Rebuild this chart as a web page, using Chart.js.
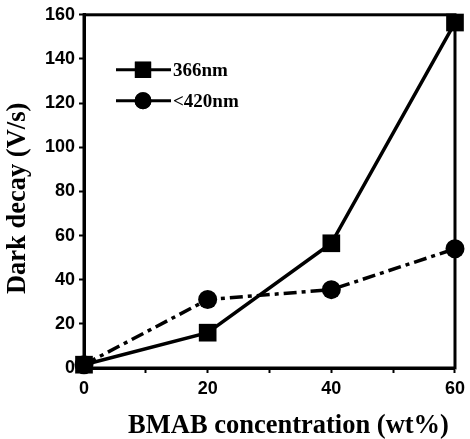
<!DOCTYPE html>
<html>
<head>
<meta charset="utf-8">
<script src="https://cdn.jsdelivr.net/npm/chart.js@4"></script>
<style>
  html, body { margin: 0; padding: 0; background: #fff; }
  #wrap { width: 470px; height: 439px; }
</style>
</head>
<body>
<div id="wrap"><canvas id="myChart"></canvas></div>
<script>
var concentration = [0, 20, 40, 60];
var decay366 = [1.5, 16, 56.5, 156.5];
var decay420 = [1.5, 31, 35.5, 54];
var seriesLabels = ["366nm", "<420nm"];
var xTitle = "BMAB concentration (wt%)";
var yTitle = "Dark decay (V/s)";

var toPoints = function(ys) {
  return concentration.map(function(x, i) { return { x: x, y: ys[i] }; });
};

// box around the plot area (top and right sides too)
var framePlugin = {
  id: "frame",
  beforeDatasetsDraw: function(chart) {
    var a = chart.chartArea;
    var c = chart.ctx;
    c.save();
    c.strokeStyle = "#000";
    c.lineWidth = 3;
    c.strokeRect(a.left, a.top, a.right - a.left, a.bottom - a.top);
    c.restore();
  }
};

// axis titles, placed a bit off-centre like the original figure
var titlePlugin = {
  id: "axisTitles",
  afterDraw: function(chart) {
    var a = chart.chartArea;
    var c = chart.ctx;
    c.save();
    c.fillStyle = "#000";
    c.font = "bold 26.5px 'Liberation Serif', 'Times New Roman', serif";
    c.textAlign = "center";
    c.textBaseline = "middle";
    c.fillText(xTitle, (a.left + a.right) / 2 + 19, a.bottom + 58);
    c.translate(18, (a.top + a.bottom) / 2 + 7);
    c.rotate(-Math.PI / 2);
    c.fillText(yTitle, 0, 0);
    c.restore();
  }
};

// legend inside the plot: short line, marker, label
var legendPlugin = {
  id: "boxLegend",
  afterDraw: function(chart) {
    var a = chart.chartArea;
    var c = chart.ctx;
    c.save();
    chart.data.datasets.forEach(function(ds, i) {
      var y = a.top + 55 + i * 31;
      var x0 = a.left + 32;
      c.strokeStyle = "#000";
      c.lineWidth = 3;
      c.setLineDash([]);
      c.beginPath();
      c.moveTo(x0, y);
      c.lineTo(x0 + 55, y);
      c.stroke();
      Chart.helpers.drawPoint(c, {
        pointStyle: ds.pointStyle,
        radius: ds.pointRadius - 1,
        borderWidth: 0
      }, x0 + 27, y);
      c.fillStyle = "#000";
      c.fill();
      c.font = "bold 19px 'Liberation Serif', serif";
      c.textBaseline = "middle";
      c.fillText(ds.label, x0 + 57, y + 1);
    });
    c.restore();
  }
};

var tickFont = { family: "'Liberation Sans', Arial, sans-serif", size: 18, weight: "bold" };

var myChart = new Chart(document.getElementById("myChart"), {
  type: "line",
  data: {
    datasets: [
      {
        label: seriesLabels[0],
        data: toPoints(decay366),
        borderColor: "#000",
        backgroundColor: "#000",
        borderWidth: 3.5,
        pointStyle: "rect",
        pointRadius: 12.5,
        pointBorderWidth: 0,
        clip: false
      },
      {
        label: seriesLabels[1],
        data: toPoints(decay420),
        borderColor: "#000",
        backgroundColor: "#000",
        borderWidth: 3.5,
        borderDash: [13, 5, 4, 5],
        pointStyle: "circle",
        pointRadius: 9.5,
        pointBorderWidth: 0,
        clip: false
      }
    ]
  },
  options: {
    responsive: true,
    maintainAspectRatio: false,
    animation: false,
    layout: { padding: { left: 0, right: 13, top: 14, bottom: 0 } },
    plugins: {
      legend: { display: false },
      tooltip: { enabled: false }
    },
    scales: {
      x: {
        type: "linear",
        min: 0,
        max: 60,
        afterFit: function(scale) { scale.height = 71; },
        border: { color: "#000", width: 3 },
        grid: { drawOnChartArea: false, drawTicks: true, tickLength: 5, tickColor: "#000", tickWidth: 2 },
        ticks: {
          stepSize: 10,
          color: "#000",
          font: tickFont,
          padding: 5,
          maxRotation: 0,
          callback: function(v) { return v % 20 === 0 ? v : ""; }
        }
      },
      y: {
        min: 0,
        max: 160,
        afterFit: function(scale) { scale.width = 84; },
        border: { color: "#000", width: 3 },
        grid: { drawOnChartArea: false, drawTicks: true, tickLength: 5, tickColor: "#000", tickWidth: 2 },
        ticks: {
          stepSize: 20,
          color: "#000",
          font: tickFont,
          padding: 4
        }
      }
    }
  },
  plugins: [framePlugin, titlePlugin, legendPlugin]
});
</script>
</body>
</html>
